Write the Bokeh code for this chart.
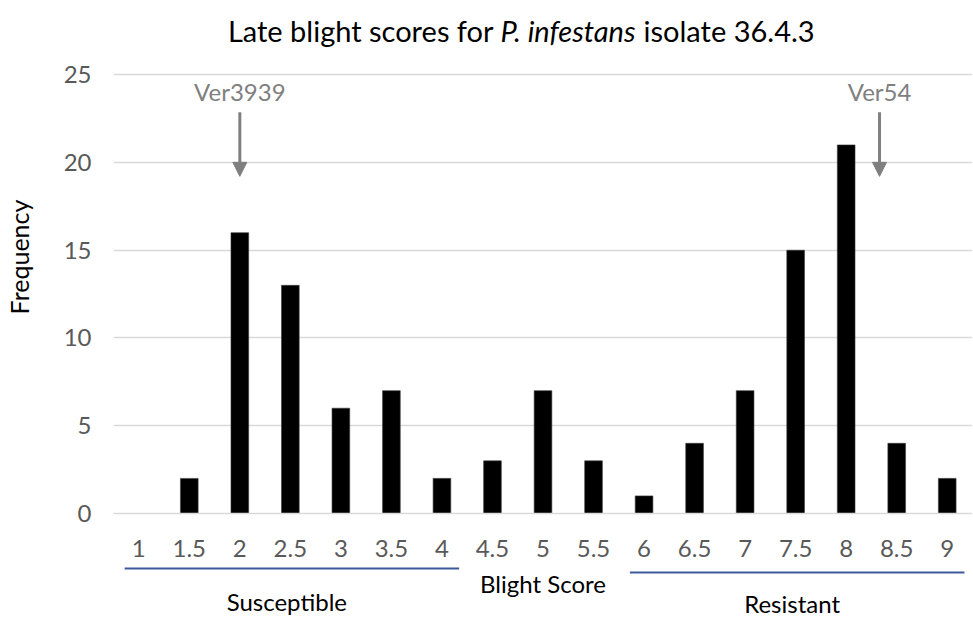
from bokeh.plotting import figure
from bokeh.models import Range1d, FixedTicker, Arrow, NormalHead
from bokeh.layouts import column
from bokeh.embed import file_html
from bokeh.resources import INLINE
from bokeh.core.properties import value

# ---- data ----
scores = ["1", "1.5", "2", "2.5", "3", "3.5", "4", "4.5", "5", "5.5",
          "6", "6.5", "7", "7.5", "8", "8.5", "9"]
frequency = [0, 2, 16, 13, 6, 7, 2, 3, 7, 3, 1, 4, 7, 15, 21, 4, 2]
y_ticks = [0, 5, 10, 15, 20, 25]
marker_names = ["Ver3939", "Ver54"]
marker_scores = [2.0, 8.33]
group_names = ["Susceptible", "Resistant"]
group_first = ["1", "6"]
group_last = ["4", "9"]
title_parts = ["Late blight scores for", "P. infestans", "isolate 36.4.3"]
x_title = "Blight Score"
y_title = "Frequency"

FONT = "Lato"
GRAY_TXT = "#595959"
GRID = "#d9d9d9"
ARROW = "#7f7f7f"
BLUE = "#3c5a9a"

idx = list(range(len(scores)))


def score_to_x(s):
    return (s - float(scores[0])) / 0.5


W = 972
p = figure(width=W, height=560, x_range=Range1d(-0.5, len(scores) - 0.5),
           y_range=Range1d(0, 29.23), output_backend="svg", toolbar_location=None,
           min_border_left=111, min_border_right=0, min_border_top=0, min_border_bottom=47)
p.outline_line_color = None

p.vbar(x=idx, top=frequency, width=0.35, fill_color="black", line_color="#3a3a3a", line_width=0.6)

p.xgrid.visible = False
p.ygrid.ticker = FixedTicker(ticks=y_ticks)
p.ygrid.grid_line_color = GRID
p.ygrid.grid_line_width = 1.3

p.yaxis.ticker = FixedTicker(ticks=y_ticks)
p.yaxis.axis_line_color = None
p.yaxis.major_tick_line_color = None
p.yaxis.minor_tick_line_color = None
p.yaxis.major_label_text_font = FONT
p.yaxis.major_label_text_font_size = "24px"
p.yaxis.major_label_text_color = GRAY_TXT
p.yaxis.major_label_standoff = 16
p.yaxis.axis_label = y_title
p.yaxis.axis_label_text_font = FONT
p.yaxis.axis_label_text_font_size = "25px"
p.yaxis.axis_label_text_font_style = "normal"
p.yaxis.axis_label_text_color = "black"
p.yaxis.axis_label_standoff = 27

p.xaxis.ticker = FixedTicker(ticks=idx)
p.xaxis.major_label_overrides = {i: s for i, s in zip(idx, scores)}
p.xaxis.axis_line_color = GRID
p.xaxis.axis_line_width = 1.3
p.xaxis.major_tick_line_color = None
p.xaxis.minor_tick_line_color = None
p.xaxis.major_label_text_font = FONT
p.xaxis.major_label_text_font_size = "24px"
p.xaxis.major_label_text_color = GRAY_TXT
p.xaxis.major_label_standoff = 20

# title pieces (regular / italic / regular)
tx = 7.16
ty = 27.52
p.text(x=[tx], y=[ty], text=[title_parts[0]], text_align="right", text_baseline="middle",
       x_offset=-7, text_font=value(FONT), text_font_size="29px", text_color="black")
p.text(x=[tx], y=[ty], text=[title_parts[1]], text_align="left", text_baseline="middle",
       text_font=value(FONT), text_font_size="29px", text_font_style="italic", text_color="black")
p.text(x=[tx], y=[ty], text=[title_parts[2]], text_align="left", text_baseline="middle",
       x_offset=143, text_font=value(FONT), text_font_size="29px", text_color="black")

# marker annotations
mx = [score_to_x(s) for s in marker_scores]
p.text(x=mx, y=[24.05] * len(mx), text=marker_names, text_align="center", text_baseline="middle",
       text_font=value(FONT), text_font_size="24px", text_color=ARROW)
for x in mx:
    p.add_layout(Arrow(end=NormalHead(size=14, fill_color=ARROW, line_color=ARROW),
                       x_start=x, y_start=22.86, x_end=x, y_end=19.21,
                       line_color=ARROW, line_width=3))

# lower panel with group brackets
QH = 58
q = figure(width=W, height=QH, x_range=p.x_range, y_range=Range1d(QH, 0),
           output_backend="svg", toolbar_location=None,
           x_axis_location=None, y_axis_location=None,
           min_border_left=111, min_border_right=0, min_border_top=0, min_border_bottom=0)
q.outline_line_color = None
q.grid.visible = False

line_y = [8, 12]
text_y = [41, 43]
gx0 = [scores.index(s) - 0.28 for s in group_first]
gx1 = [scores.index(s) + 0.34 for s in group_last]
q.segment(x0=gx0, y0=line_y, x1=gx1, y1=line_y, line_color=BLUE, line_width=2)
q.text(x=[(a + b) / 2 - 0.1 for a, b in zip(gx0, gx1)], y=text_y, text=group_names,
       text_align="center", text_baseline="middle", text_font=value(FONT),
       text_font_size="24px", text_color="black")
q.text(x=[(len(scores) - 1) / 2], y=[23], text=[x_title], text_align="center",
       text_baseline="middle", text_font=value(FONT), text_font_size="24px", text_color="black")

layout = column(p, q, spacing=0)
open("out.html", "w").write(file_html(layout, INLINE))
